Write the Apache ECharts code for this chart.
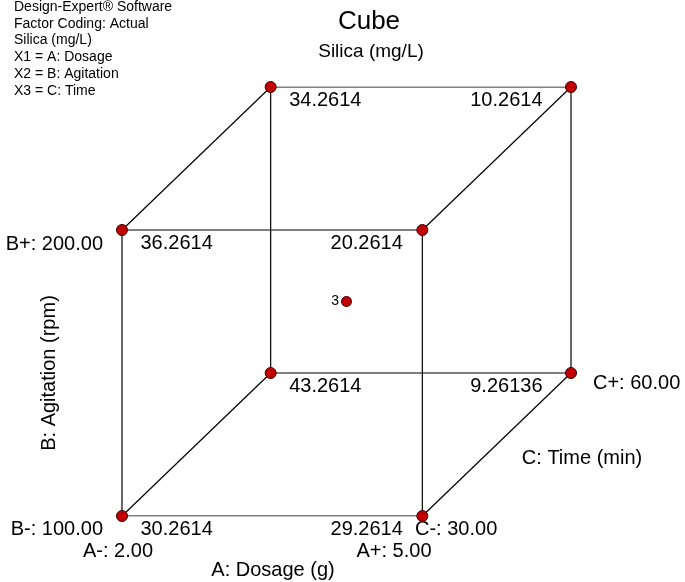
<!DOCTYPE html>
<html>
<head>
<meta charset="utf-8">
<script src="https://cdn.jsdelivr.net/npm/echarts@6/dist/echarts.min.js"></script>
<style>html,body{margin:0;padding:0;background:#fff;}#main{width:685px;height:582px;}</style>
</head>
<body>
<div id="main"></div>
<script>
// ---- data ----
const title = 'Cube';
const responseName = 'Silica (mg/L)';
const infoLines = ['Design-Expert\u00AE Software', 'Factor Coding: Actual', 'Silica (mg/L)', 'X1 = A: Dosage', 'X2 = B: Agitation', 'X3 = C: Time'];
const factorNames = ['A: Dosage (g)', 'B: Agitation (rpm)', 'C: Time (min)'];
const levelsA = [2.00, 5.00];
const levelsB = [100.00, 200.00];
const levelsC = [30.00, 60.00];
// coded corners [A, B, C]
const cornerCodes = [[-1,-1,-1],[1,-1,-1],[-1,1,-1],[1,1,-1],[-1,-1,1],[1,-1,1],[-1,1,1],[1,1,1]];
const responses = ['30.2614','29.2614','36.2614','20.2614','43.2614','9.26136','34.2614','10.2614'];
const centerCode = [0,0,0];
const centerRuns = 3;

// ---- projection (oblique view of the coded cube) ----
const depthX = 0.99, depthY = 1.0;
function proj(c) { return [c[0] + depthX * (c[2] + 1) / 2, c[1] + depthY * (c[2] + 1) / 2]; }

const FONT = 'Arial, "Liberation Sans", sans-serif';
const lineColor = '#000';

// edges: pairs of corners differing in exactly one factor
const edgeSeries = [];
for (let i = 0; i < cornerCodes.length; i++) {
  for (let j = i + 1; j < cornerCodes.length; j++) {
    let diff = 0;
    for (let k = 0; k < 3; k++) if (cornerCodes[i][k] !== cornerCodes[j][k]) diff++;
    if (diff === 1) {
      edgeSeries.push({
        type: 'line', data: [proj(cornerCodes[i]), proj(cornerCodes[j])],
        symbol: 'none', silent: true, z: 1,
        lineStyle: { color: lineColor, width: 1.2, opacity: 1 }
      });
    }
  }
}

const symSize = 11;
const labelBase = { show: true, color: '#000', fontSize: 20, fontFamily: FONT, opacity: 1 };
const cornerData = cornerCodes.map((c, i) => {
  const right = c[0] > 0;
  const dx = right ? (c[2] > 0 ? -28 : -19) : 19;
  return {
    value: proj(c),
    label: Object.assign({}, labelBase, {
      formatter: responses[i],
      position: [symSize / 2 + dx, symSize / 2 + 14],
      align: right ? 'right' : 'left',
      verticalAlign: 'middle'
    })
  };
});

const pointStyle = { color: '#c00000', borderColor: '#400000', borderWidth: 1, opacity: 1 };

const option = {
  animation: false,
  backgroundColor: '#fff',
  grid: { left: 122, right: 114, top: 87, bottom: 66 },
  xAxis: { type: 'value', min: -1, max: 1 + depthX, show: false },
  yAxis: { type: 'value', min: -1, max: 1 + depthY, show: false },
  series: edgeSeries.concat([
    {
      type: 'scatter', z: 3, symbol: 'circle', symbolSize: symSize,
      itemStyle: pointStyle,
      label: labelBase,
      data: cornerData
    },
    {
      type: 'scatter', z: 3, symbol: 'circle', symbolSize: 10,
      itemStyle: pointStyle,
      label: { show: true, position: 'left', distance: 2, formatter: String(centerRuns), color: '#000', fontSize: 14, fontFamily: FONT, opacity: 1 },
      data: [proj(centerCode)]
    }
  ]),
  graphic: [
    { type: 'text', style: { x: 369, y: 22, text: title, font: '26px ' + FONT, fill: '#000', textAlign: 'center', textVerticalAlign: 'middle' } },
    { type: 'text', style: { x: 371, y: 52, text: responseName, font: '19px ' + FONT, fill: '#000', textAlign: 'center', textVerticalAlign: 'middle' } },
    ...infoLines.map((t, i) => ({ type: 'text', style: { x: 14, y: 7 + i * 16.8, text: t, font: '14px ' + FONT, fill: '#000', textAlign: 'left', textVerticalAlign: 'middle' } })),
    { type: 'text', style: { x: 103, y: 244, text: 'B+: ' + levelsB[1].toFixed(2), font: '20px ' + FONT, fill: '#000', textAlign: 'right', textVerticalAlign: 'middle' } },
    { type: 'text', style: { x: 103, y: 529, text: 'B-: ' + levelsB[0].toFixed(2), font: '20px ' + FONT, fill: '#000', textAlign: 'right', textVerticalAlign: 'middle' } },
    { type: 'text', style: { x: 118, y: 551, text: 'A-: ' + levelsA[0].toFixed(2), font: '20px ' + FONT, fill: '#000', textAlign: 'center', textVerticalAlign: 'middle' } },
    { type: 'text', style: { x: 394, y: 551, text: 'A+: ' + levelsA[1].toFixed(2), font: '20px ' + FONT, fill: '#000', textAlign: 'center', textVerticalAlign: 'middle' } },
    { type: 'text', style: { x: 273, y: 570, text: factorNames[0], font: '20px ' + FONT, fill: '#000', textAlign: 'center', textVerticalAlign: 'middle' } },
    { type: 'text', style: { x: 415, y: 529, text: 'C-: ' + levelsC[0].toFixed(2), font: '20px ' + FONT, fill: '#000', textAlign: 'left', textVerticalAlign: 'middle' } },
    { type: 'text', style: { x: 593, y: 383, text: 'C+: ' + levelsC[1].toFixed(2), font: '20px ' + FONT, fill: '#000', textAlign: 'left', textVerticalAlign: 'middle' } },
    { type: 'text', style: { x: 582, y: 458, text: factorNames[2], font: '20px ' + FONT, fill: '#000', textAlign: 'center', textVerticalAlign: 'middle' } },
    { type: 'text', x: 49, y: 373, rotation: Math.PI / 2, style: { x: 0, y: 0, text: factorNames[1], font: '20px ' + FONT, fill: '#000', textAlign: 'center', textVerticalAlign: 'middle' } }
  ]
};

const chart = echarts.init(document.getElementById('main'), null, { renderer: 'canvas' });
chart.setOption(option);
</script>
</body>
</html>
